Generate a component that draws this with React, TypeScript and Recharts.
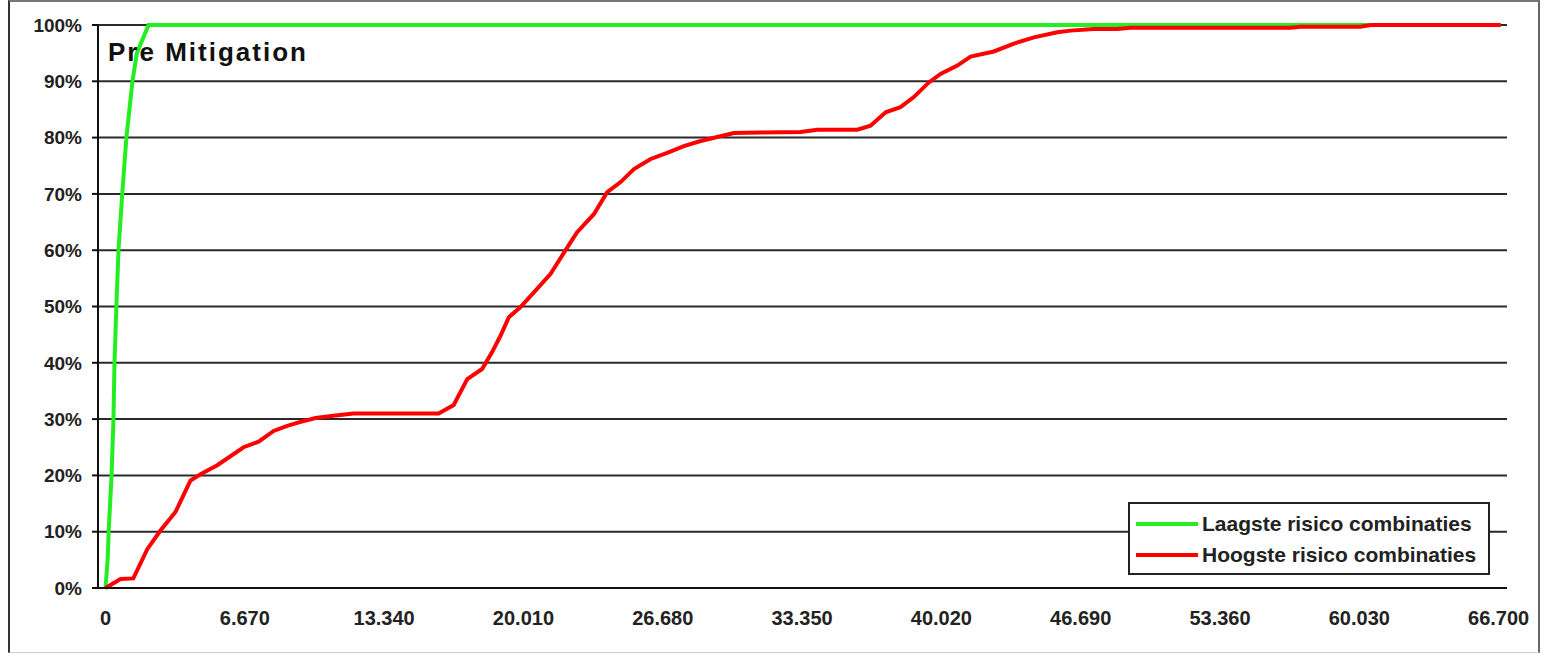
import React from "react";
import {
    LineChart,
    Line,
    XAxis,
    YAxis,
    CartesianGrid,
    Legend,
} from "recharts";

// cumulative distribution, x = amount, y = percentage
const greenX = [0, 100, 150, 290, 380, 430, 520, 620, 800, 1000, 1290, 1500, 2060, 66800];
const greenY = [0, 5, 10, 20, 30, 40, 50, 60, 70, 80, 90, 95, 100, 100];

const redX = [
    0, 720, 1330, 2000, 2630, 3350, 4070, 4550, 5350, 6610, 7330, 8050, 8700, 9340,
    10060, 10910, 11870, 15950, 16670, 17320, 18030, 18510, 18910, 19310, 19870,
    20510, 21310, 22110, 22580, 23380, 24020, 24660, 25300, 26100, 26890, 27690,
    28490, 29290, 30080, 31360, 33280, 34080, 35990, 36630, 37350, 38060, 38700,
    39420, 39980, 40780, 41420, 42530, 43490, 44450, 45570, 46200, 47320, 48440,
    49070, 56730, 57220, 60090, 60570, 66800,
];
const redY = [
    0, 1.6, 1.7, 6.9, 10.2, 13.5, 19.1, 20.2, 21.8, 25.0, 26.0, 27.9, 28.8, 29.5,
    30.2, 30.6, 31.0, 31.0, 32.5, 37.1, 38.9, 41.9, 44.8, 48.1, 49.9,
    52.5, 55.8, 60.5, 63.2, 66.4, 70.3, 72.1, 74.4, 76.2, 77.3, 78.5,
    79.4, 80.1, 80.8, 80.9, 81.0, 81.4, 81.4, 82.1, 84.5, 85.4, 87.2,
    89.8, 91.3, 92.8, 94.4, 95.3, 96.7, 97.8, 98.7, 99.0, 99.3, 99.3,
    99.5, 99.5, 99.7, 99.7, 100, 100,
];

const xTicks = [0, 6670, 13340, 20010, 26680, 33350, 40020, 46690, 53360, 60030, 66700];
const yTicks = [0, 10, 20, 30, 40, 50, 60, 70, 80, 90, 100];

const seriesNames = ["Laagste risico combinaties", "Hoogste risico combinaties"];
const seriesColors = ["#22ee22", "#ff0000"];

const greenData = greenX.map((x, i) => ({ x, y: greenY[i] }));
const redData = redX.map((x, i) => ({ x, y: redY[i] }));

const FONT = "'Liberation Sans', Arial, sans-serif";

function fmtX(v: number) {
    if (v === 0) return "0";
    const k = Math.floor(v / 1000);
    const r = String(v % 1000).padStart(3, "0");
    return `${k}.${r}`;
}

function LegendBox() {
    return (
        <div
            style={{
                width: 362,
                height: 73,
                boxSizing: "border-box",
                border: "2px solid #222",
                background: "#fff",
                fontFamily: FONT,
                fontWeight: "bold",
                fontSize: 21,
                color: "#222",
                paddingTop: 4,
            }}
        >
            {seriesNames.map((name, i) => (
                <div
                    key={name}
                    style={{ display: "flex", alignItems: "center", height: 31 }}
                >
                    <div
                        style={{
                            width: 62,
                            height: 4,
                            marginLeft: 6,
                            marginRight: 4,
                            background: seriesColors[i],
                        }}
                    />
                    <span>{name}</span>
                </div>
            ))}
        </div>
    );
}

export default function App() {
    return (
        <div
            style={{
                position: "fixed",
                left: 0,
                top: 0,
                width: 1547,
                height: 656,
                background: "#fff",
            }}
        >
            {/* FRAME */}
            <div
                style={{
                    position: "absolute",
                    left: 8,
                    top: 0,
                    width: 1532,
                    height: 653,
                    boxSizing: "border-box",
                    borderLeft: "2px solid #333",
                    borderTop: "2px solid #777",
                    borderRight: "2px solid #666",
                    borderBottom: "1px solid #ccc",
                }}
            />

            <LineChart
                width={1547}
                height={656}
                margin={{ top: 25, right: 40, left: 38, bottom: 38 }}
                style={{ position: "absolute", left: 0, top: 0 }}
            >
                {/* GRID */}
                <CartesianGrid vertical={false} stroke="#2a2a2a" strokeWidth={2} />

                {/* X */}
                <XAxis
                    dataKey="x"
                    type="number"
                    domain={[-360, 67100]}
                    ticks={xTicks}
                    tickFormatter={fmtX}
                    allowDataOverflow
                    axisLine={{ stroke: "#111", strokeWidth: 2 }}
                    tickLine={false}
                    tickSize={6}
                    tickMargin={17}
                    height={30}
                    tick={{ fontFamily: FONT, fontSize: 20, fontWeight: "bold", fill: "#222" }}
                />

                {/* Y */}
                <YAxis
                    type="number"
                    domain={[0, 100]}
                    ticks={yTicks}
                    tickFormatter={(v) => `${v}%`}
                    width={60}
                    axisLine={{ stroke: "#111", strokeWidth: 2 }}
                    tickLine={{ stroke: "#111", strokeWidth: 2 }}
                    tickSize={6}
                    tickMargin={10}
                    tick={{ fontFamily: FONT, fontSize: 19, fontWeight: "bold", fill: "#222" }}
                />

                {/* LEGEND */}
                <Legend
                    layout="vertical"
                    align="center"
                    verticalAlign="middle"
                    content={() => <LegendBox />}
                    wrapperStyle={{ left: 1128, top: 502, width: 362, height: 73 }}
                />

                {/* LINE LAAGSTE */}
                <Line
                    data={greenData}
                    dataKey="y"
                    name={seriesNames[0]}
                    type="linear"
                    stroke={seriesColors[0]}
                    strokeWidth={4}
                    dot={false}
                    isAnimationActive={false}
                />

                {/* LINE HOOGSTE */}
                <Line
                    data={redData}
                    dataKey="y"
                    name={seriesNames[1]}
                    type="linear"
                    stroke={seriesColors[1]}
                    strokeWidth={4}
                    dot={false}
                    isAnimationActive={false}
                />
            </LineChart>

            {/* TITLE */}
            <div
                style={{
                    position: "absolute",
                    left: 108,
                    top: 37,
                    fontFamily: FONT,
                    fontWeight: "bold",
                    fontSize: 26,
                    letterSpacing: 2,
                    color: "#111",
                    lineHeight: "30px",
                }}
            >
                Pre Mitigation
            </div>
        </div>
    );
}
